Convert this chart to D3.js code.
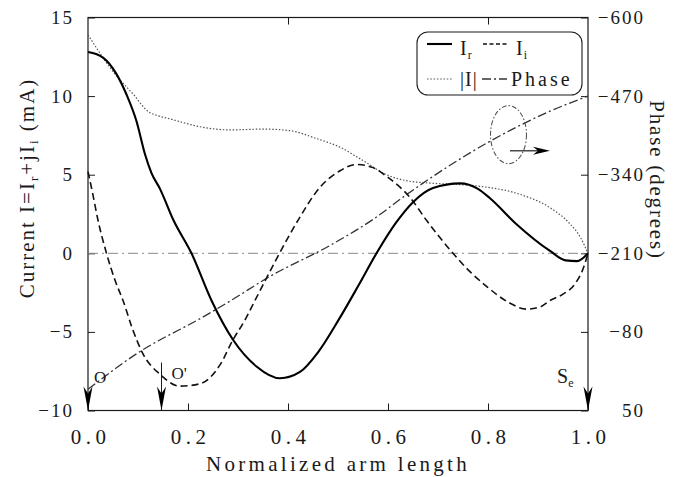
<!DOCTYPE html>
<html>
<head>
<meta charset="utf-8">
<script src="https://cdn.jsdelivr.net/npm/d3@7"></script>
<style>
  body { margin: 0; background: #fff; }
  svg { display: block; font-family: "Liberation Serif", "Times New Roman", serif; }
</style>
</head>
<body>
<svg id="chart" width="682" height="477"></svg>
<script>
// [A] Data -------------------------------------------------------------------
const xTicks = [0, 0.2, 0.4, 0.6, 0.8, 1.0];
const topTicks = [0.4, 0.8];
const currentTicks = [15, 10, 5, 0, -5, -10];
const phaseTicks = [-600, -470, -340, -210, -80, 50];

// [normalized arm length, current mA]
const irData = [
  [0, 12.8], [0.03, 12.45], [0.057, 11.4], [0.077, 10.1], [0.097, 8.4],
  [0.114, 6.3], [0.127, 5.1], [0.144, 4.1], [0.171, 2.1], [0.207, 0],
  [0.247, -3.0], [0.29, -5.5], [0.337, -7.2], [0.384, -7.95], [0.424, -7.55],
  [0.46, -6.3], [0.5, -4.3], [0.54, -2.1], [0.577, 0], [0.615, 1.9],
  [0.65, 3.25], [0.69, 4.15], [0.744, 4.45], [0.78, 4.1], [0.804, 3.5],
  [0.857, 1.85], [0.924, 0.15], [0.955, -0.45], [0.978, -0.5], [1.0, 0]
];
const iiData = [
  [0, 5.2], [0.01, 3.7], [0.02, 2.1], [0.037, 0], [0.055, -1.8],
  [0.07, -3.0], [0.09, -4.9], [0.11, -6.4], [0.144, -7.7], [0.184, -8.45],
  [0.224, -8.3], [0.264, -7.1], [0.29, -5.5], [0.313, -4.3], [0.334, -3.0],
  [0.383, 0], [0.42, 2.1], [0.464, 4.2], [0.504, 5.25], [0.537, 5.65],
  [0.57, 5.45], [0.597, 4.9], [0.644, 3.55], [0.677, 2.1], [0.73, 0],
  [0.765, -1.2], [0.797, -2.1], [0.84, -3.1], [0.877, -3.55], [0.905, -3.4],
  [0.924, -3.0], [0.95, -2.6], [0.975, -1.9], [0.99, -1.0], [1.0, 0]
];
const absData = [
  [0, 13.9], [0.054, 11.4], [0.091, 10.1], [0.121, 9.0], [0.14, 8.75],
  [0.164, 8.55], [0.224, 8.05], [0.284, 7.85], [0.351, 7.9], [0.404, 7.8],
  [0.457, 7.3], [0.504, 6.75], [0.55, 5.9], [0.597, 5.0], [0.64, 4.6],
  [0.684, 4.47], [0.784, 4.26], [0.864, 3.75], [0.924, 2.9], [0.96, 2.0],
  [0.985, 1.0], [1.0, 0]
];
// [normalized arm length, phase in degrees]
const phaseData = [
  [0, 15], [0.127, -59], [0.14, -65], [0.22, -100], [0.29, -134],
  [0.36, -170], [0.484, -223], [0.57, -266], [0.637, -307], [0.81, -398],
  [0.924, -445], [1.0, -470]
];

// points marked with arrows on the arm
const markerX = [0, 0.147, 1.0];
const markerLabels = ["O", "O'", "S"];
const oPrimeTop = -6.95; // current value where the O' arrow starts

// ellipse + arrow pointing to the phase axis
const ellipseCenter = [0.841, 7.55];
const phaseArrow = [[0.844, 6.52], [0.924, 6.52]];

// [B] Layout -----------------------------------------------------------------
const svg = d3.select("#chart");
const x = d3.scaleLinear().domain([0, 1]).range([88, 588]);
const y = d3.scaleLinear().domain([-10, 15]).range([410.5, 17.5]);
const yPhase = d3.scaleLinear().domain([50, -600]).range([410.5, 17.5]);
const ink = "#1a1a1a";

// [C] Frame + axes -----------------------------------------------------------
svg.append("rect")
  .attr("x", x(0)).attr("y", y(15))
  .attr("width", x(1) - x(0)).attr("height", y(-10) - y(15))
  .attr("fill", "none").attr("stroke", ink).attr("stroke-width", 1.2);

function styleAxis(g) {
  g.select(".domain").remove();
  g.selectAll(".tick line").attr("stroke", ink).attr("stroke-width", 1);
  g.selectAll("text").attr("fill", ink).attr("font-family", "Liberation Serif");
}

const gBottom = svg.append("g")
  .attr("transform", `translate(0,${y(-10)})`)
  .call(d3.axisBottom(x).tickValues(xTicks).tickSize(-7).tickFormat(d3.format(".1f")))
  .call(styleAxis);
gBottom.selectAll("text")
  .attr("font-size", 21).attr("letter-spacing", 4.5)
  .attr("y", 33).attr("dy", null).attr("dx", 2.2);

svg.append("g")
  .attr("transform", `translate(0,${y(15)})`)
  .call(d3.axisTop(x).tickValues(topTicks).tickSize(-7).tickFormat(""))
  .call(styleAxis);

const gLeft = svg.append("g")
  .attr("transform", `translate(${x(0)},0)`)
  .call(d3.axisLeft(y).tickValues(currentTicks).tickSize(-7).tickPadding(16))
  .call(styleAxis);
gLeft.selectAll("text").attr("font-size", 19).attr("letter-spacing", 2).attr("dx", 2);

const gRight = svg.append("g")
  .attr("transform", `translate(${x(1)},0)`)
  .call(d3.axisRight(yPhase).tickValues(phaseTicks).tickSize(-7))
  .call(styleAxis);
gRight.selectAll("text")
  .attr("font-size", 19).attr("letter-spacing", 2)
  .attr("text-anchor", "end").attr("x", 57);

// axis titles
svg.append("text")
  .attr("x", (x(0) + x(1)) / 2).attr("y", 471)
  .attr("text-anchor", "middle").attr("font-size", 21).attr("letter-spacing", 3.3)
  .attr("fill", ink)
  .text("Normalized arm length");

const leftTitle = svg.append("text")
  .attr("transform", "translate(34,188) rotate(-90)")
  .attr("text-anchor", "middle").attr("font-size", 21).attr("letter-spacing", 2)
  .attr("fill", ink);
leftTitle.append("tspan").text("Current I=I");
leftTitle.append("tspan").attr("font-size", 13).attr("dy", 4).text("r");
leftTitle.append("tspan").attr("dy", -4).text("+jI");
leftTitle.append("tspan").attr("font-size", 13).attr("dy", 4).text("i");
leftTitle.append("tspan").attr("dy", -4).text(" (mA)");

svg.append("text")
  .attr("transform", "translate(650,180) rotate(90)")
  .attr("text-anchor", "middle").attr("font-size", 21).attr("letter-spacing", 1.8)
  .attr("fill", ink)
  .text("Phase (degrees)");

// [D] Curves -----------------------------------------------------------------
const lineCur = d3.line().x(d => x(d[0])).y(d => y(d[1])).curve(d3.curveMonotoneX);
const linePhase = d3.line().x(d => x(d[0])).y(d => yPhase(d[1])).curve(d3.curveMonotoneX);

const styles = {
  ir: { stroke: "#000", width: 2.1, dash: null },
  ii: { stroke: "#111", width: 1.6, dash: "7,4" },
  abs: { stroke: "#555", width: 1.2, dash: "1.5,1.8" },
  phase: { stroke: "#333", width: 1.3, dash: "9,3,2,3" }
};

// zero reference line
svg.append("path")
  .attr("d", lineCur([[0, 0], [1, 0]]))
  .attr("fill", "none").attr("stroke", "#888").attr("stroke-width", 1)
  .attr("stroke-dasharray", "10,4,2,4");

function drawSeries(data, gen, s) {
  svg.append("path")
    .attr("d", gen(data))
    .attr("fill", "none")
    .attr("stroke", s.stroke)
    .attr("stroke-width", s.width)
    .attr("stroke-dasharray", s.dash);
}
drawSeries(absData, lineCur, styles.abs);
drawSeries(phaseData, linePhase, styles.phase);
drawSeries(iiData, lineCur, styles.ii);
drawSeries(irData, lineCur, styles.ir);

// [E] Annotations ------------------------------------------------------------
function arrowHead(px, py, dir) {
  // dir: "down" or "right"
  if (dir === "down") {
    return `M${px - 4.5},${py - 24} L${px},${py} L${px + 4.5},${py - 24} L${px},${py - 17} Z`;
  }
  return `M${px - 17},${py - 4} L${px},${py} L${px - 17},${py + 4} L${px - 12},${py} Z`;
}

svg.append("line")
  .attr("x1", x(markerX[1])).attr("x2", x(markerX[1]))
  .attr("y1", y(oPrimeTop)).attr("y2", y(-10))
  .attr("stroke", ink).attr("stroke-width", 1);

markerX.forEach(m => {
  svg.append("path").attr("d", arrowHead(x(m), y(-10), "down")).attr("fill", "#000");
});

svg.append("text").attr("x", x(markerX[0]) + 6).attr("y", 383)
  .attr("font-size", 17).attr("fill", ink).text(markerLabels[0]);
svg.append("text").attr("x", x(markerX[1]) + 10).attr("y", 379)
  .attr("font-size", 17).attr("fill", ink).text(markerLabels[1]);
const seLabel = svg.append("text").attr("x", x(markerX[2]) - 31).attr("y", 383)
  .attr("font-size", 20).attr("fill", ink);
seLabel.append("tspan").text(markerLabels[2]);
seLabel.append("tspan").attr("font-size", 12).attr("dy", 4).text("e");

svg.append("ellipse")
  .attr("cx", x(ellipseCenter[0])).attr("cy", y(ellipseCenter[1]))
  .attr("rx", 18).attr("ry", 29)
  .attr("fill", "none").attr("stroke", "#555").attr("stroke-width", 1.1)
  .attr("stroke-dasharray", "5,2,1.5,2");

svg.append("line")
  .attr("x1", x(phaseArrow[0][0])).attr("y1", y(phaseArrow[0][1]))
  .attr("x2", x(phaseArrow[1][0]) - 12).attr("y2", y(phaseArrow[1][1]))
  .attr("stroke", ink).attr("stroke-width", 1.2);
svg.append("path")
  .attr("d", arrowHead(x(phaseArrow[1][0]), y(phaseArrow[1][1]), "right"))
  .attr("fill", "#000");

// [F] Legend -----------------------------------------------------------------
const legend = svg.append("g");
legend.append("rect")
  .attr("x", 417).attr("y", 32).attr("width", 165).attr("height", 63)
  .attr("rx", 11).attr("fill", "#fff").attr("stroke", ink).attr("stroke-width", 1.1);

const legendItems = [
  { key: "ir", x: 427, y: 44, main: "I", sub: "r" },
  { key: "ii", x: 483, y: 44, main: "I", sub: "i" },
  { key: "abs", x: 427, y: 79, main: "|I|", sub: null },
  { key: "phase", x: 482, y: 79, main: "Phase", sub: null }
];
legendItems.forEach(it => {
  const s = styles[it.key];
  legend.append("line")
    .attr("x1", it.x).attr("x2", it.x + 25)
    .attr("y1", it.y).attr("y2", it.y)
    .attr("stroke", s.stroke).attr("stroke-width", s.width)
    .attr("stroke-dasharray", it.key === "ii" ? "4,2.5" : s.dash);
  const t = legend.append("text")
    .attr("x", it.x + (it.key === "phase" ? 29 : 33)).attr("y", it.key === "ir" || it.key === "ii" ? 55 : 86)
    .attr("font-size", 20).attr("letter-spacing", it.key === "phase" ? 3 : 1)
    .attr("fill", ink);
  t.append("tspan").text(it.main);
  if (it.sub) t.append("tspan").attr("font-size", 12).attr("dy", 4).text(it.sub);
});
</script>
</body>
</html>
